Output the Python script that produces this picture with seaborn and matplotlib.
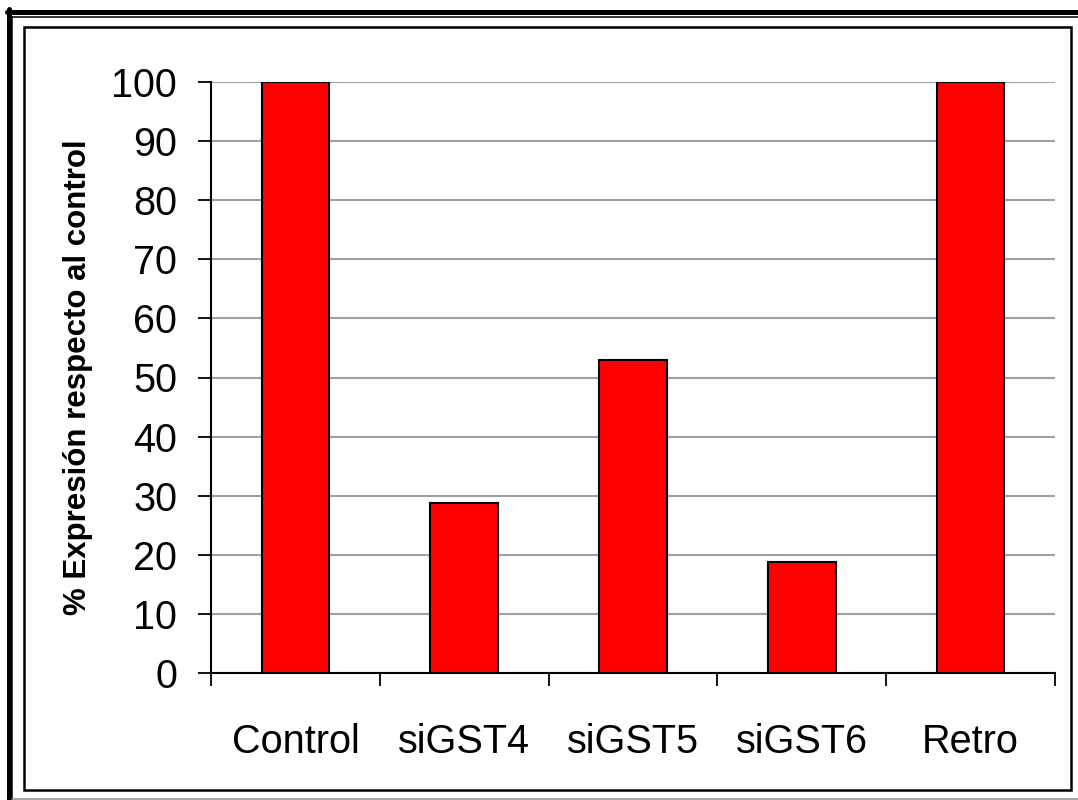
import matplotlib
matplotlib.use("Agg")
import matplotlib.pyplot as plt
from matplotlib.lines import Line2D
from matplotlib.patches import Rectangle
import seaborn as sns
import pandas as pd

categories = ["Control", "siGST4", "siGST5", "siGST6", "Retro"]
expression = [100, 28.7, 53.0, 18.8, 100]
y_ticks = list(range(0, 101, 10))

df = pd.DataFrame({"grupo": categories, "expresion": expression})

sns.set_style("white")
plt.rcParams["font.family"] = ["Liberation Sans", "DejaVu Sans"]

W, H = 1078, 800
fig = plt.figure(figsize=(W / 100, H / 100), dpi=100)
ax = fig.add_axes([211 / W, (H - 673) / H, (1055 - 211) / W, (673 - 82) / H])

sns.barplot(data=df, x="grupo", y="expresion", color="#ff0000", saturation=1,
            width=0.4, edgecolor="black", linewidth=1.5, ax=ax, zorder=3)

ax.set_ylim(0, 100)
ax.set_xlim(-0.5, len(categories) - 0.5)
ax.set_yticks(y_ticks)
ax.set_yticklabels([str(t) for t in y_ticks], fontsize=28.5, color="black")
ax.yaxis.grid(True, color="#a0a0a0", linewidth=1.5, zorder=0)
ax.set_axisbelow(True)

# ticks between categories on the x axis, labels centred under the bars
ax.set_xticks([i - 0.5 for i in range(len(categories) + 1)])
ax.set_xticklabels([])
ax.set_xticks(range(len(categories)), minor=True)
ax.set_xticklabels(categories, minor=True, fontsize=28.5, color="black")
ax.tick_params(axis="x", which="major", bottom=True, direction="out",
               length=9.5, width=1.3, color="black")
ax.tick_params(axis="x", which="minor", bottom=True, length=0, pad=36)
ax.tick_params(axis="y", left=True, direction="out", length=9.5, width=1.3,
               color="black", pad=15)

for side in ["top", "right"]:
    ax.spines[side].set_visible(False)
for side in ["left", "bottom"]:
    ax.spines[side].set_color("black")
    ax.spines[side].set_linewidth(1.5)

ax.set_xlabel("")
ax.set_ylabel("% Expresión respecto al control", fontsize=22.5, fontweight="bold",
              color="black")
ax.yaxis.set_label_coords(-(211 - 93) / (1055 - 211), 0.5)


def fy(y):
    return 1 - y / H


# frame lines around the figure (outer double line, inner box)
fig.add_artist(Line2D([6.5 / W, 1], [fy(11.5)] * 2, color="black", linewidth=3.6))
fig.add_artist(Line2D([9 / W] * 2, [fy(9), 0], color="black", linewidth=3.6))
fig.add_artist(Line2D([12.5 / W, 1], [fy(16.5)] * 2, color="black", linewidth=1.1))
fig.add_artist(Line2D([12.5 / W] * 2, [fy(16.5), 0], color="black", linewidth=1.1))
fig.add_artist(Line2D([12.5 / W, 1], [fy(798.5)] * 2, color="#909090", linewidth=1.1))
fig.patches.append(Rectangle((24 / W, fy(789.5)), (1071 - 24) / W, (789.5 - 27) / H,
                             transform=fig.transFigure, fill=False,
                             edgecolor="black", linewidth=1.8))

fig.savefig("out.png", dpi=100)
